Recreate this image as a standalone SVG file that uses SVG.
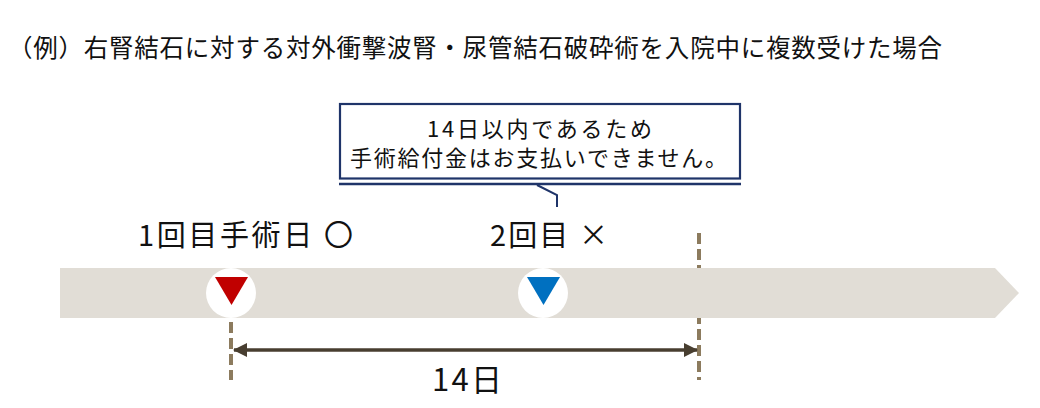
<svg xmlns="http://www.w3.org/2000/svg" width="1040" height="408" viewBox="0 0 1040 408">
  <style>
    text { font-family: "Noto Sans CJK JP", "Noto Sans", sans-serif; fill: #111; }
    .title { font-size: 24.5px; }
    .lbl { font-size: 29px; }
    .call { font-size: 22px; }
    .dash { stroke: #8C7B5E; stroke-width: 4; stroke-dasharray: 11 5; fill: none; }
    .navy { stroke: #1F3469; fill: none; }
  </style>
  <defs>
    <marker id="ah" viewBox="0 0 14 14" refX="13" refY="7" markerWidth="14" markerHeight="14" markerUnits="userSpaceOnUse" orient="auto-start-reverse">
      <path d="M0,0 L14,7 L0,14 Z" fill="#483E30"/>
    </marker>
  </defs>

  <text id="title" class="title" x="8" y="57" textLength="934" lengthAdjust="spacing">（例）右腎結石に対する対外衝撃波腎・尿管結石破砕術を入院中に複数受けた場合</text>

  <g id="guides">
    <line class="dash" x1="699" y1="233" x2="699" y2="380"/>
    <line class="dash" x1="231" y1="322" x2="231" y2="380"/>
  </g>

  <g id="timeline">
    <path d="M60,268 L995,268 L1019,293 L995,318 L60,318 Z" fill="#E1DDD6"/>
  </g>

  <g id="mark1">
    <circle cx="231" cy="293" r="25" fill="#FFFFFF"/>
    <path d="M215,277 L248,277 L231.5,305 Z" fill="#C00000"/>
  </g>
  <g id="mark2">
    <circle cx="543" cy="293" r="25" fill="#FFFFFF"/>
    <path d="M527,277 L560,277 L543.5,305 Z" fill="#0070C0"/>
  </g>

  <g id="label1">
    <text class="lbl" x="138" y="246" textLength="215" lengthAdjust="spacing">1回目手術日 〇</text>
  </g>
  <g id="label2">
    <text class="lbl" x="490" y="246" textLength="118" lengthAdjust="spacing">2回目 ×</text>
  </g>

  <g id="callout">
    <rect class="navy" x="340" y="104" width="400" height="74.5" stroke-width="2.2" fill="#FFFFFF"/>
    <line class="navy" x1="339" y1="184" x2="741" y2="184" stroke-width="2.6"/>
    <path class="navy" d="M537,185 L557,195 L557,207" stroke-width="2"/>
    <text class="call" x="427" y="137" textLength="225" lengthAdjust="spacing">14日以内であるため</text>
    <text class="call" x="350" y="166" textLength="377" lengthAdjust="spacing">手術給付金はお支払いできません。</text>
  </g>

  <g id="connectors">
    <line x1="234" y1="350" x2="697" y2="350" stroke="#483E30" stroke-width="3.5" marker-start="url(#ah)" marker-end="url(#ah)"/>
  </g>
  <g id="span-label">
    <text class="lbl" x="432" y="391" textLength="70" lengthAdjust="spacing" style="font-size:31px">14日</text>
  </g>
</svg>
